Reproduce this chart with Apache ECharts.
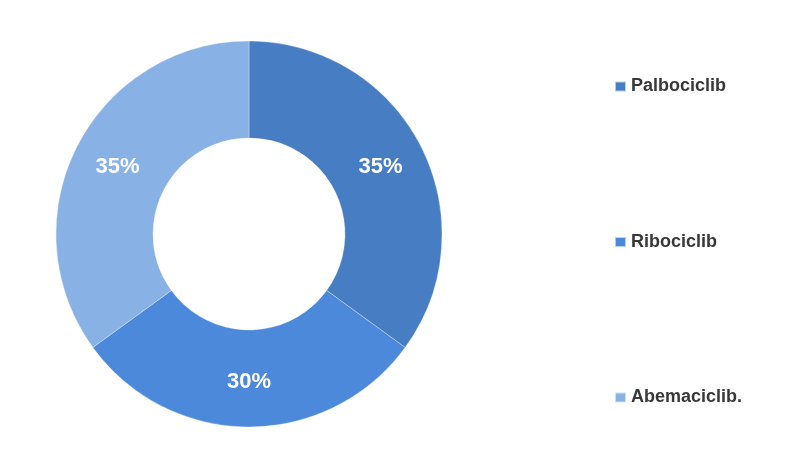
<!DOCTYPE html>
<html>
<head>
<meta charset="utf-8">
<script src="https://cdn.jsdelivr.net/npm/echarts@6/dist/echarts.min.js"></script>
<style>
  html, body { margin: 0; padding: 0; background: #fff; }
  #chart { width: 800px; height: 463px; }
</style>
</head>
<body>
<div id="chart"></div>
<script>
// 数据
var drugNames = ['Palbociclib', 'Ribociclib', 'Abemaciclib.'];
var shareValues = [35, 30, 35];
var sliceColors = ['#477DC2', '#4C89DA', '#88B1E6'];

var pieData = [];
for (var i = 0; i < drugNames.length; i++) {
    pieData.push({ name: drugNames[i], value: shareValues[i] });
}

var chart = echarts.init(document.getElementById('chart'));
var option = {
    color: sliceColors,
    animation: false,
    // 图例
    legend: {
        orient: 'vertical',
        left: 609,
        top: 70,
        itemWidth: 11,
        itemHeight: 10,
        itemGap: 132.5,
        icon: 'rect',
        textStyle: {
            color: '#383838',
            fontSize: 18,
            fontWeight: 'bold',
            fontFamily: 'Liberation Sans',
            lineHeight: 20,
            padding: [0, 0, 3, 0]
        },
        data: drugNames
    },
    series: [{
        type: 'pie',
        center: [249, 234],
        radius: [96, 193],
        startAngle: 90,
        clockwise: true,
        silent: true,
        label: {
            show: true,
            position: 'inside',
            formatter: '{c}%',
            color: '#fff',
            fontSize: 22,
            fontWeight: 'bold',
            fontFamily: 'Liberation Sans'
        },
        labelLine: { show: false },
        itemStyle: {
            borderColor: 'rgba(255,255,255,0.6)',
            borderWidth: 0.5
        },
        data: pieData
    }]
};
chart.setOption(option);
</script>
</body>
</html>
